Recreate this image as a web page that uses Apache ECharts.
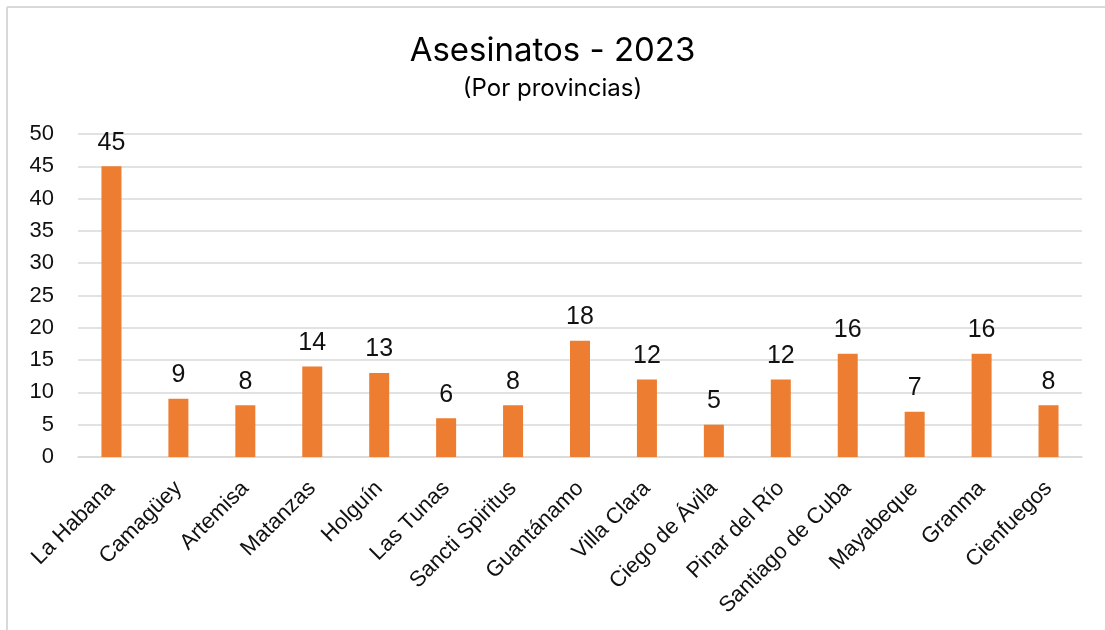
<!DOCTYPE html>
<html><head><meta charset="utf-8">
<script src="https://cdn.jsdelivr.net/npm/echarts@6/dist/echarts.min.js"></script>
<style>html,body{margin:0;padding:0;background:#fff}#c{width:1105px;height:630px}</style>
</head><body><div id="c"></div>
<script>
const categories = ["La Habana","Camagüey","Artemisa","Matanzas","Holguín","Las Tunas","Sancti Spiritus","Guantánamo","Villa Clara","Ciego de Ávila","Pinar del Río","Santiago de Cuba","Mayabeque","Granma","Cienfuegos"];
const values = [45,9,8,14,13,6,8,18,12,5,12,16,7,16,8];
const titleText = "Asesinatos - 2023";
const subtitleText = "(Por provincias)";

const chart = echarts.init(document.getElementById('c'), null, {renderer:'canvas'});
chart.setOption({
  animation:false,
  backgroundColor:'#fff',
  title:{text:titleText, subtext:subtitleText, left:'center', top:30, itemGap:9,
    textStyle:{fontFamily:'Inter', fontSize:33, fontWeight:'normal', color:'#000'},
    subtextStyle:{fontFamily:'Inter', fontSize:24, color:'#000'}},
  grid:{left:78, right:23, top:134, bottom:173},
  xAxis:{type:'category', data:categories,
    axisLine:{lineStyle:{color:'#d9d9d9', width:1.5}}, axisTick:{show:false},
    axisLabel:{rotate:45, interval:0, fontFamily:'Liberation Sans', fontSize:22, color:'#111', margin:28}},
  yAxis:{type:'value', min:0, max:50, interval:5,
    axisLine:{show:false}, axisTick:{show:false},
    splitLine:{lineStyle:{color:'#d9d9d9', width:1.5}},
    axisLabel:{fontFamily:'Liberation Sans', fontSize:22, color:'#111', margin:24}},
  series:[{type:'bar', data:values, barWidth:20, itemStyle:{color:'#ED7D31'},
    label:{show:true, position:'top', distance:11, fontFamily:'Liberation Sans', fontSize:25, color:'#111'}}],
  graphic:[
    {type:'line', shape:{x1:7,y1:7,x2:1105,y2:7}, style:{stroke:'#d9d9d9', lineWidth:2}},
    {type:'line', shape:{x1:7,y1:7,x2:7,y2:630}, style:{stroke:'#d9d9d9', lineWidth:2}}
  ]
});
</script></body></html>
